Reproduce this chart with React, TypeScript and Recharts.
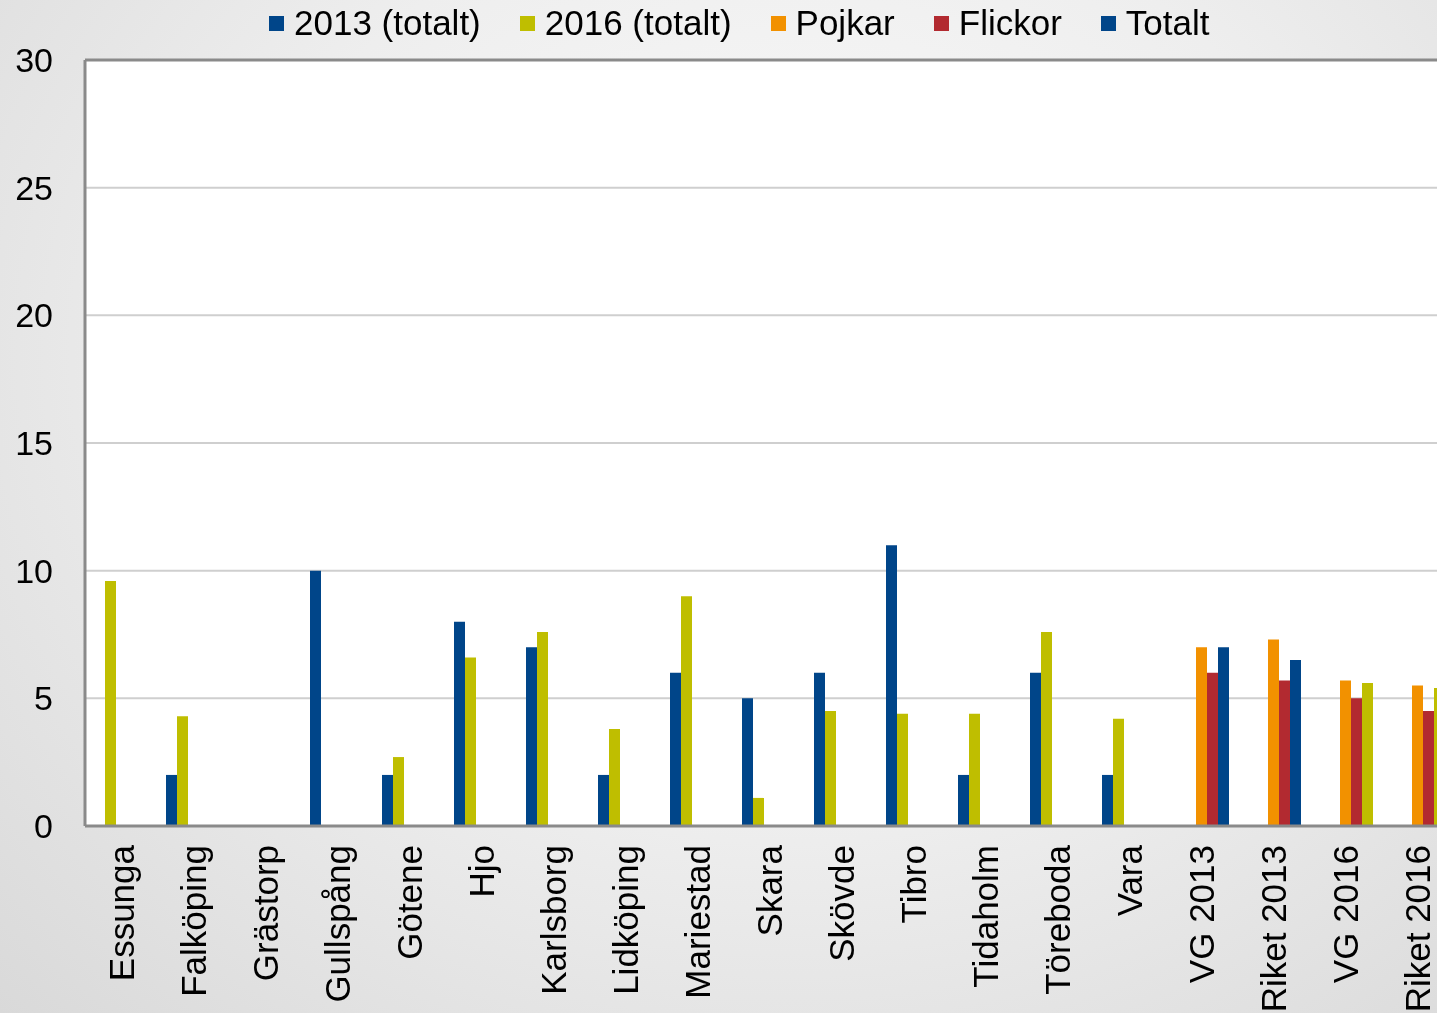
import React from 'react';
import { BarChart, Bar, XAxis, YAxis, CartesianGrid, Legend, ReferenceLine, Cell } from 'recharts';

const categories = ['Essunga', 'Falköping', 'Grästorp', 'Gullspång', 'Götene', 'Hjo', 'Karlsborg', 'Lidköping', 'Mariestad', 'Skara', 'Skövde', 'Tibro', 'Tidaholm', 'Töreboda', 'Vara', 'VG 2013', 'Riket 2013', 'VG 2016', 'Riket 2016'];
const total2013: (number | null)[] = [null, 2, null, 10, 2, 8, 7, 2, 6, 5, 6, 11, 2, 6, 2, null, null, null, null];
const total2016: (number | null)[] = [9.6, 4.3, null, null, 2.7, 6.6, 7.6, 3.8, 9.0, 1.1, 4.5, 4.4, 4.4, 7.6, 4.2, null, null, null, null];
const pojkar: (number | null)[] = [null, null, null, null, null, null, null, null, null, null, null, null, null, null, null, 7.0, 7.3, 5.7, 5.5];
const flickor: (number | null)[] = [null, null, null, null, null, null, null, null, null, null, null, null, null, null, null, 6.0, 5.7, 5.0, 4.5];
const totalt: (number | null)[] = [null, null, null, null, null, null, null, null, null, null, null, null, null, null, null, 7.0, 6.5, 5.6, 5.4];
const yTicks = [0, 5, 10, 15, 20, 25, 30];

const BLUE = '#004589';
const YELLOW = '#bfbe00';
const ORANGE = '#f29100';
const RED = '#b22a30';

const data = categories.map((c, i) => ({
  name: c,
  t2013: total2013[i],
  t2016: total2016[i],
  pojkar: pojkar[i],
  flickor: flickor[i],
  totalt: totalt[i],
}));

const FONT = '"Liberation Sans", Arial, sans-serif';

const XTick = (props: any) => {
  const { x, y, payload } = props;
  return (
    <text
      x={x}
      y={y}
      transform={`rotate(-90, ${x}, ${y})`}
      textAnchor="end"
      dominantBaseline="central"
      fontSize={35}
      fontFamily={FONT}
      fill="#000"
    >
      {payload.value}
    </text>
  );
};

const legendItems = [
  { label: '2013 (totalt)', color: BLUE },
  { label: '2016 (totalt)', color: YELLOW },
  { label: 'Pojkar', color: ORANGE },
  { label: 'Flickor', color: RED },
  { label: 'Totalt', color: BLUE },
];

const LegendContent = () => (
  <div style={{ display: 'flex', alignItems: 'center', fontFamily: FONT, fontSize: 35, color: '#000', whiteSpace: 'nowrap' }}>
    {legendItems.map((it, i) => (
      <div key={i} style={{ display: 'flex', alignItems: 'center', marginRight: i < legendItems.length - 1 ? 39 : 0 }}>
        <span style={{ display: 'inline-block', width: 15, height: 15, background: it.color, marginRight: 10 }} />
        <span>{it.label}</span>
      </div>
    ))}
  </div>
);

export default function App() {
  return (
    <div
      style={{
        position: 'fixed',
        left: 0,
        top: 0,
        width: 1437,
        height: 1013,
        overflow: 'hidden',
        background: 'radial-gradient(ellipse at 55% 35%, #fbfbfb 0%, #eeeeee 50%, #d9d9d9 100%)',
      }}
    >
      <BarChart
        width={1460}
        height={1013}
        data={data}
        margin={{ top: 60, right: 7, left: 0, bottom: 0 }}
        barSize={11}
        barGap={0}
      >
        <CartesianGrid vertical={false} stroke="#cfcfcf" strokeWidth={2} fill="#ffffff" />
        <XAxis
          dataKey="name"
          interval={0}
          height={187}
          tickLine={false}
          tickSize={0}
          tickMargin={19}
          tick={<XTick />}
          axisLine={{ stroke: '#8a8a8a', strokeWidth: 3 }}
        />
        <YAxis
          width={85}
          domain={[0, 30]}
          ticks={yTicks}
          interval={0}
          tickLine={false}
          tickSize={0}
          tickMargin={32}
          axisLine={{ stroke: '#8a8a8a', strokeWidth: 3 }}
          tick={{ fontSize: 34, fontFamily: FONT, fill: '#000' }}
        />
        <ReferenceLine y={30} stroke="#8a8a8a" strokeWidth={3} />
        <Legend
          verticalAlign="middle"
          align="center"
          layout="horizontal"
          content={<LegendContent />}
          wrapperStyle={{ top: 3, left: 269, width: 'auto' }}
        />
        <Bar dataKey="t2013" name="2013 (totalt)" fill={BLUE} isAnimationActive={false} />
        <Bar dataKey="t2016" name="2016 (totalt)" fill={YELLOW} isAnimationActive={false} />
        <Bar dataKey="pojkar" name="Pojkar" fill={ORANGE} isAnimationActive={false} />
        <Bar dataKey="flickor" name="Flickor" fill={RED} isAnimationActive={false} />
        <Bar dataKey="totalt" name="Totalt" fill={BLUE} isAnimationActive={false}>
          {data.map((d, i) => (
            <Cell key={i} fill={d.name.endsWith('2016') ? YELLOW : BLUE} />
          ))}
        </Bar>
      </BarChart>
    </div>
  );
}
